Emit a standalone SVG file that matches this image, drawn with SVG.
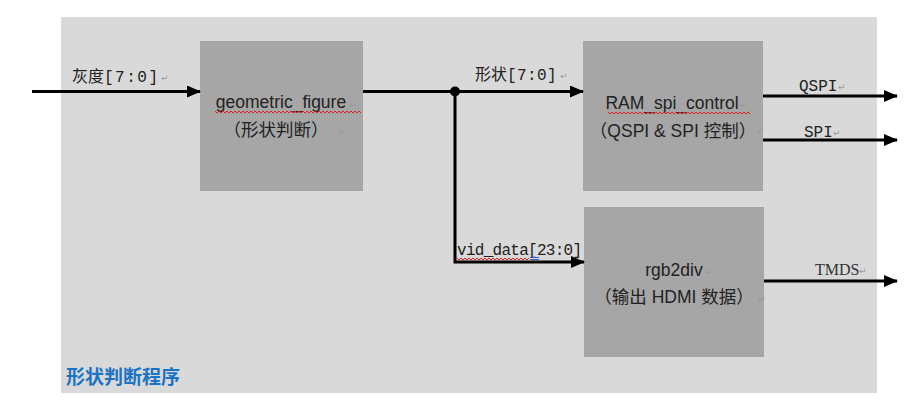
<svg xmlns="http://www.w3.org/2000/svg" width="924" height="407" viewBox="0 0 924 407">
<style>
.box{fill:#a6a6a6}
.wire{stroke:#000;stroke-width:3;fill:none}
.lbl{font-family:"Liberation Mono","Noto Sans CJK SC",monospace;font-size:16px;fill:#222}
.ser{font-family:"Liberation Serif","Noto Sans CJK SC",serif;font-size:16px;fill:#333}
.bt{font-family:"Liberation Sans","Noto Sans CJK SC",sans-serif;font-size:17.5px;fill:#222;text-anchor:middle}
.pm{font-family:"DejaVu Sans",sans-serif;font-size:9px;fill:#999}
.wavy{stroke:#e02020;stroke-width:1;fill:none}
.title{font-family:"Noto Sans CJK SC",sans-serif;font-size:19px;font-weight:bold;fill:#1a73c4}
</style>
<defs>
<marker id="ah" markerUnits="userSpaceOnUse" markerWidth="14" markerHeight="12" refX="13" refY="6" orient="auto">
<path d="M0,0 L14,6 L0,12 z" fill="#000"/>
</marker>
</defs>
<rect x="61" y="17" width="816" height="376" fill="#d9d9d9"/>
<g id="geometric_figure">
<rect class="box" x="200" y="41" width="163" height="150"/>
<text class="bt" x="281" y="108">geometric_figure</text>
<text class="pm" x="349" y="108">↵</text>
<path class="wavy" d="M215,111 l2,2 l2,-2 l2,2 l2,-2 l2,2 l2,-2 l2,2 l2,-2 l2,2 l2,-2 l2,2 l2,-2 l2,2 l2,-2 l2,2 l2,-2 l2,2 l2,-2 l2,2 l2,-2 l2,2 l2,-2 l2,2 l2,-2 l2,2 l2,-2 l2,2 l2,-2 l2,2 l2,-2 l2,2 l2,-2 l2,2 l2,-2 l2,2 l2,-2 l2,2 l2,-2 l2,2 l2,-2 l2,2 l2,-2 l2,2 l2,-2 l2,2 l2,-2 l2,2 l2,-2 l2,2 l2,-2 l2,2 l2,-2 l2,2 l2,-2 l2,2 l2,-2 l2,2 l2,-2 l2,2 l2,-2 l2,2 l2,-2 l2,2 l2,-2 l2,2 l2,-2 l2,2 l2,-2 l2,2 l2,-2 l2,2 l2,-2 l2,2"/>
<text class="bt" x="276" y="136">（形状判断）</text>
<text class="pm" x="338" y="135">↵</text>
</g>
<g id="RAM_spi_control">
<rect class="box" x="583" y="41" width="180" height="150"/>
<text class="bt" x="672" y="109">RAM_spi_control</text>
<text class="pm" x="740" y="108">↵</text>
<path class="wavy" d="M608,112 l2,2 l2,-2 l2,2 l2,-2 l2,2 l2,-2 l2,2 l2,-2 l2,2 l2,-2 l2,2 l2,-2 l2,2 l2,-2 l2,2 l2,-2 l2,2 l2,-2 l2,2 l2,-2 l2,2 l2,-2 l2,2 l2,-2 l2,2 l2,-2 l2,2 l2,-2 l2,2 l2,-2 l2,2 l2,-2 l2,2 l2,-2 l2,2 l2,-2 l2,2 l2,-2 l2,2 l2,-2 l2,2 l2,-2 l2,2 l2,-2 l2,2 l2,-2 l2,2 l2,-2 l2,2 l2,-2 l2,2 l2,-2 l2,2 l2,-2 l2,2 l2,-2 l2,2 l2,-2 l2,2 l2,-2 l2,2 l2,-2 l2,2 l2,-2 l2,2 l2,-2 l2,2 l2,-2 l2,2 l2,-2 l2,2"/>
<text class="bt" x="673" y="137">（QSPI &amp; SPI 控制）</text>
<text class="pm" x="757" y="134">↵</text>
</g>
<g id="rgb2div">
<rect class="box" x="584" y="207" width="180" height="150"/>
<text class="bt" x="674" y="276">rgb2div</text>
<text class="pm" x="706" y="275">↵</text>
<text class="bt" x="674" y="303">（输出 HDMI 数据）</text>
<text class="pm" x="758" y="302">↵</text>
</g>
<g id="connectors">
<line class="wire" x1="32" y1="91.5" x2="200" y2="91.5" marker-end="url(#ah)"/>
<line class="wire" x1="363" y1="91.5" x2="583" y2="91.5" marker-end="url(#ah)"/>
<circle cx="455" cy="91.5" r="5" fill="#000"/>
<polyline class="wire" points="455,91.5 455,262 584,262" marker-end="url(#ah)"/>
<line class="wire" x1="763" y1="96" x2="897" y2="96" marker-end="url(#ah)"/>
<line class="wire" x1="763" y1="140" x2="897" y2="140" marker-end="url(#ah)"/>
<line class="wire" x1="764" y1="281" x2="897" y2="281" marker-end="url(#ah)"/>
</g>
<g id="labels">
<text class="lbl" x="72" y="82">灰度<tspan letter-spacing="1.5">[7:0]</tspan></text>
<text class="pm" x="161" y="81">↵</text>
<text class="lbl" x="475" y="80">形状<tspan letter-spacing="0.4">[7:0]</tspan></text>
<text class="pm" x="560" y="79">↵</text>
<text class="lbl" x="457" y="255" textLength="125" lengthAdjust="spacing">vid_data[23:0]</text>
<path class="wavy" d="M457,258 l2,2 l2,-2 l2,2 l2,-2 l2,2 l2,-2 l2,2 l2,-2 l2,2 l2,-2 l2,2 l2,-2 l2,2 l2,-2 l2,2 l2,-2 l2,2 l2,-2 l2,2 l2,-2 l2,2 l2,-2 l2,2 l2,-2 l2,2 l2,-2 l2,2 l2,-2 l2,2 l2,-2 l2,2 l2,-2 l2,2 l2,-2 l2,2 l2,-2"/>
<path d="M530,257.5 h9 M530,259.5 h9" stroke="#3060d0" stroke-width="1"/>
<text class="lbl" x="799" y="91">QSPI</text>
<text class="pm" x="838" y="90">↵</text>
<text class="lbl" x="804" y="137">SPI</text>
<text class="pm" x="833" y="136">↵</text>
<text class="ser" x="815" y="275" font-size="15.5">TMDS</text>
<text class="pm" x="859" y="274">↵</text>
</g>
<text class="title" x="66" y="384">形状判断程序</text>
</svg>
